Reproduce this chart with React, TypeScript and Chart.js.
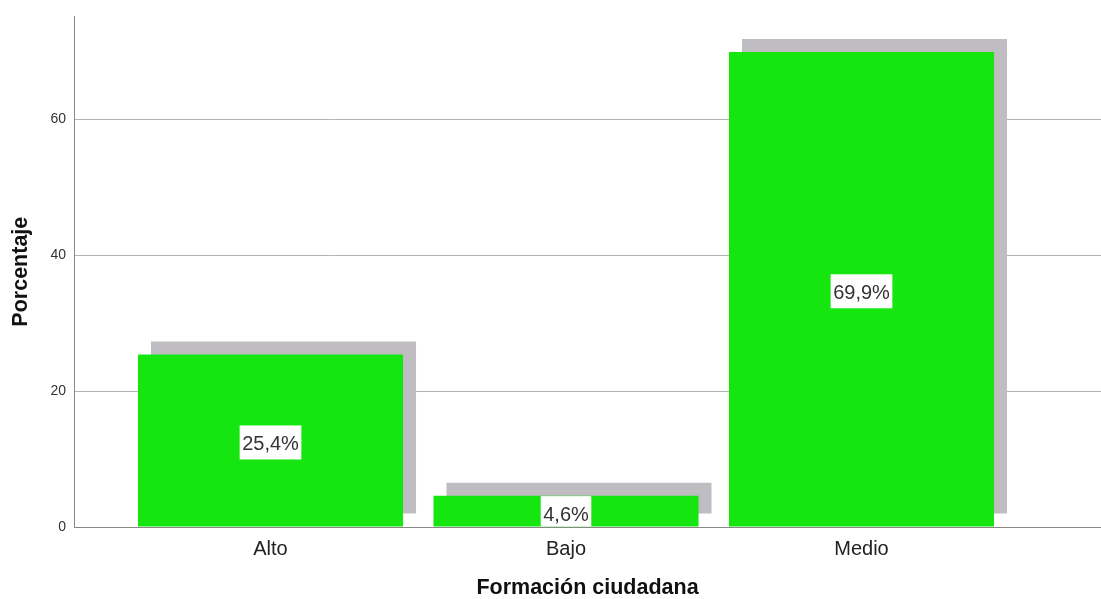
import React, { useEffect, useRef } from 'react';
import { Chart, registerables } from 'chart.js';

Chart.register(...registerables);

const categories = ['Alto', 'Bajo', 'Medio'];
const percentages = [25.4, 4.6, 69.9];
const yTickValues = [0, 20, 40, 60];
const xTitle = 'Formación ciudadana';
const yTitle = 'Porcentaje';

const FONT = '"Liberation Sans", Arial, sans-serif';
const BAR_COLOR = 'rgb(22,230,16)';
const SHADOW_COLOR = '#bfbdc2';

const shadowAndLabels = {
  id: 'shadowAndLabels',
  beforeDatasetDraw(chart: any) {
    const ctx = chart.ctx;
    ctx.save();
    ctx.shadowColor = SHADOW_COLOR;
    ctx.shadowOffsetX = 13;
    ctx.shadowOffsetY = -13;
    ctx.shadowBlur = 0;
  },
  afterDatasetDraw(chart: any) {
    chart.ctx.restore();
  },
  afterDatasetsDraw(chart: any) {
    const ctx = chart.ctx;
    const area = chart.chartArea;
    const meta = chart.getDatasetMeta(0);
    ctx.save();
    ctx.beginPath();
    ctx.rect(area.left, area.top, area.right - area.left, area.bottom - area.top - 0.5);
    ctx.clip();
    ctx.font = `20px ${FONT}`;
    ctx.textAlign = 'center';
    ctx.textBaseline = 'middle';
    meta.data.forEach((bar: any, i: number) => {
      const text = percentages[i].toFixed(1).replace('.', ',') + '%';
      const mid = (bar.y + bar.base) / 2;
      const w = ctx.measureText(text).width + 5;
      ctx.fillStyle = '#ffffff';
      ctx.fillRect(bar.x - w / 2, mid - 15, w, 34);
      ctx.fillStyle = '#333333';
      ctx.fillText(text, bar.x, mid + 4);
    });
    ctx.restore();
  },
};

export default function App() {
  const ref = useRef<HTMLCanvasElement | null>(null);

  useEffect(() => {
    if (!ref.current) return;
    const chart = new Chart(ref.current, {
      type: 'bar',
      data: {
        datasets: [
          {
            data: categories.map((c, i) => ({ x: i, y: percentages[i] })),
            backgroundColor: BAR_COLOR,
            borderWidth: 0,
            categoryPercentage: 1,
            barPercentage: 0.897,
          },
        ],
      },
      options: {
        animation: false,
        responsive: true,
        maintainAspectRatio: false,
        layout: { padding: { top: 16, left: 0, right: 0, bottom: 0 } },
        plugins: {
          legend: { display: false },
          tooltip: { enabled: false },
        },
        scales: {
          x: {
            type: 'linear',
            offset: false,
            min: -0.665,
            max: 2.8105,
            grid: { display: false, drawTicks: false, offset: false },
            border: { display: true, color: '#888888', width: 1 },
            afterBuildTicks: (scale: any) => {
              scale.ticks = categories.map((_, i) => ({ value: i }));
            },
            afterFit: (scale: any) => {
              scale.height = 72;
            },
            ticks: {
              autoSkip: false,
              maxRotation: 0,
              padding: 10,
              color: '#222222',
              font: { family: FONT, size: 20 },
              callback: (v: any) => categories[Math.round(Number(v))] ?? '',
            },
            title: {
              display: true,
              text: xTitle,
              color: '#111111',
              font: { family: FONT, size: 21.5, weight: 'bold', lineHeight: 1 },
              padding: { top: 0, bottom: 0 },
            },
          },
          y: {
            type: 'linear',
            min: 0,
            max: 75.15,
            grid: { color: '#b4b4b4', lineWidth: 1, drawTicks: false },
            border: { display: true, color: '#888888', width: 1 },
            afterBuildTicks: (scale: any) => {
              scale.ticks = yTickValues.map((v) => ({ value: v }));
            },
            afterFit: (scale: any) => {
              scale.width = 74;
            },
            ticks: {
              padding: 8,
              color: '#333333',
              font: { family: FONT, size: 14 },
              callback: (v: any) => String(v),
            },
            title: {
              display: true,
              text: yTitle,
              color: '#111111',
              font: { family: FONT, size: 21.5, weight: 'bold', lineHeight: 1 },
              padding: { top: 10, bottom: 0 },
            },
          },
        },
      },
      plugins: [shadowAndLabels],
    });
    return () => chart.destroy();
  }, []);

  return (
    <div style={{ position: 'absolute', left: 0, top: 0, width: 1101, height: 599 }}>
      <canvas ref={ref} />
    </div>
  );
}
